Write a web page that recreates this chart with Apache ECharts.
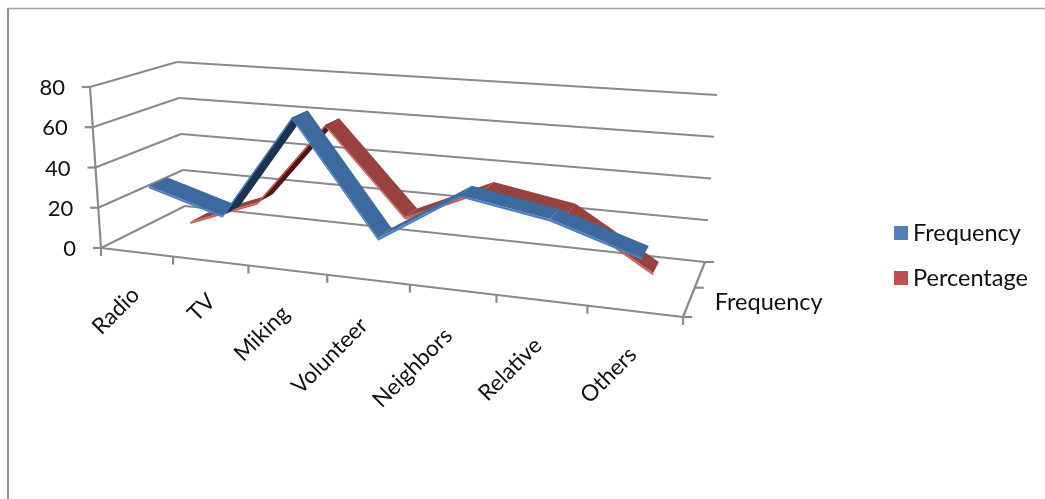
<!DOCTYPE html>
<html>
<head>
<meta charset="utf-8">
<style>html,body{margin:0;padding:0;background:#fff}#chart{width:1045px;height:499px}</style>
<script src="https://cdn.jsdelivr.net/npm/echarts@6/dist/echarts.min.js"></script>
</head>
<body>
<div id="chart"></div>
<script>
const categories = ['Radio', 'TV', 'Miking', 'Volunteer', 'Neighbors', 'Relative', 'Others'];
const frequency = [29, 18, 69, 15, 39, 32, 19];
const percentage = [1, 15, 58, 15, 32, 25, 1];
const valueTicks = [0, 20, 40, 60, 80];
const depthLabel = 'Frequency';

// Screen corners of the 3D box: floor and ceiling, each [front-left, front-right, back-right, back-left].
const floorCorners = [[101, 248], [683, 317], [705, 262], [185, 206]];
const ceilCorners = [[90, 87], [698, 130], [717, 95], [177, 62]];
const gridColor = '#8a8a8a';
const textColor = '#111';
const fontFamily = 'Lato, "Liberation Sans", sans-serif';
const foreshorten = 1.049;

// Projective map from the unit square onto a quadrilateral.
function quadMap(q) {
  const [[x0, y0], [x1, y1], [x2, y2], [x3, y3]] = q;
  const dx1 = x1 - x2, dx2 = x3 - x2, sx = x0 - x1 + x2 - x3;
  const dy1 = y1 - y2, dy2 = y3 - y2, sy = y0 - y1 + y2 - y3;
  const den = dx1 * dy2 - dx2 * dy1;
  const g = (sx * dy2 - dx2 * sy) / den;
  const h = (dx1 * sy - sx * dy1) / den;
  const a = x1 - x0 + g * x1, b = x3 - x0 + h * x3;
  const d = y1 - y0 + g * y1, e = y3 - y0 + h * y3;
  return (u, w) => {
    const k = g * u + h * w + 1;
    return [(a * u + b * w + x0) / k, (d * u + e * w + y0) / k];
  };
}
const floorMap = quadMap(floorCorners);
const ceilMap = quadMap(ceilCorners);

// u: along categories, v: up the value axis, d: front to back.
function project(u, v, d) {
  const s = u / (u + foreshorten * (1 - u));
  const p = floorMap(s, d), q = ceilMap(s, d);
  return [p[0] + (q[0] - p[0]) * v, p[1] + (q[1] - p[1]) * v];
}
// Converts an (index, value) pair to unit coordinates through the hidden cartesian axes.
function unit(api, params, i, value) {
  const c = api.coord([i, value]);
  const r = params.coordSys;
  return [(c[0] - r.x) / r.width, 1 - (c[1] - r.y) / r.height];
}

function line(a, b, width, color) {
  return {
    type: 'line', silent: true,
    shape: { x1: a[0], y1: a[1], x2: b[0], y2: b[1] },
    style: { stroke: color || gridColor, lineWidth: width || 2.2 }
  };
}

function renderFrame(params, api) {
  const kids = [];
  valueTicks.forEach((t) => {
    const v = unit(api, params, 0, t)[1];
    const fl = project(0, v, 0), bl = project(0, v, 1), br = project(1, v, 1);
    kids.push(line(fl, bl), line(bl, br));
    kids.push(line([fl[0] - 8, fl[1]], fl));
    kids.push({
      type: 'text', silent: true, x: fl[0] - 25, y: fl[1] + 1,
      style: { text: String(t), fill: textColor, font: '22px ' + fontFamily, align: 'right', verticalAlign: 'middle' }
    });
  });
  const n = categories.length;
  const fl0 = project(0, 0, 0), fr0 = project(1, 0, 0), br0 = project(1, 0, 1);
  kids.push(line(project(0, 0, 0), project(0, 1, 0)));
  kids.push(line(fl0, fr0), line(fr0, br0));
  for (let k = 0; k <= n; k++) {
    const p = project(k / n, 0, 0);
    kids.push(line(p, [p[0], p[1] + 8]));
  }
  [0, 0.5, 1].forEach((d) => {
    const p = project(1, 0, d);
    kids.push(line(p, [p[0] + 9, p[1]]));
  });
  categories.forEach((name, i) => {
    const u = unit(api, params, i, 0)[0];
    const p = project(u, 0, 0);
    // Longer labels slide a little further down their own slant.
    const slide = name.length * 0.8;
    kids.push({
      type: 'text', silent: true, x: p[0] + 3 - slide, y: p[1] + 35 + slide, rotation: Math.PI / 4,
      style: { text: name, fill: textColor, font: '22.5px ' + fontFamily, align: 'right', verticalAlign: 'middle' }
    });
  });
  const lab = project(1, 0, 0.5);
  kids.push({
    type: 'text', silent: true, x: lab[0] + 20, y: lab[1] + 15,
    style: { text: depthLabel, fill: textColor, font: '23.5px ' + fontFamily, align: 'left', verticalAlign: 'middle' }
  });
  return { type: 'group', children: kids };
}

// Each ribbon segment spans a strip of depth with a thin front face below it;
// its sign on screen tells whether the top or the underside faces us.
function ribbon(values, depth, face, under, edge) {
  const half = 0.11, thick = 1.1;
  return function (params, api) {
    const i = api.value(0);
    if (i >= values.length - 1) return null;
    const a = unit(api, params, i, values[i]);
    const b = unit(api, params, i + 1, values[i + 1]);
    const low = unit(api, params, i, thick)[1];
    const f0 = project(a[0], a[1], depth - half), f1 = project(b[0], b[1], depth - half);
    const b0 = project(a[0], a[1], depth + half), b1 = project(b[0], b[1], depth + half);
    const g0 = project(a[0], a[1] - low, depth - half), g1 = project(b[0], b[1] - low, depth - half);
    const cross = (f1[0] - f0[0]) * (b0[1] - f0[1]) - (f1[1] - f0[1]) * (b0[0] - f0[0]);
    const top = cross < 0;
    return {
      type: 'group', children: [
        { type: 'polygon', shape: { points: [f0, f1, b1, b0] }, style: { fill: top ? face : under } },
        { type: 'polygon', shape: { points: [f0, f1, g1, g0] }, style: { fill: edge } }
      ]
    };
  };
}

const chart = echarts.init(document.getElementById('chart'), null, { renderer: 'canvas' });
chart.setOption({
  animation: false,
  backgroundColor: '#fff',
  grid: { left: 100, right: 300, top: 60, bottom: 200 },
  xAxis: { type: 'category', data: categories, show: false },
  yAxis: { type: 'value', min: 0, max: 80, interval: 20, show: false },
  legend: {
    data: ['Frequency', 'Percentage'],
    orient: 'vertical', left: 889, top: 216, itemWidth: 14, itemHeight: 14, itemGap: 21,
    icon: 'rect', selectedMode: false,
    textStyle: { color: textColor, fontSize: 23.5, fontFamily: fontFamily }
  },
  graphic: [
    { type: 'line', shape: { x1: 8, y1: 8.5, x2: 8, y2: 499 }, style: { stroke: '#8c8c8c', lineWidth: 2 } },
    { type: 'line', shape: { x1: 7, y1: 8.5, x2: 1045, y2: 8.5 }, style: { stroke: '#a0a0a0', lineWidth: 1.5 } }
  ],
  series: [
    { type: 'custom', name: 'frame', silent: true, z: 1, data: [[0, 0]], renderItem: renderFrame },
    {
      type: 'custom', name: 'Percentage', z: 2, silent: true,
      itemStyle: { color: '#c0504d' },
      data: percentage.map((v, i) => [i, v]),
      renderItem: ribbon(percentage, 0.75, '#984240', '#4d1614', '#cf5d5a')
    },
    {
      type: 'custom', name: 'Frequency', z: 3, silent: true,
      itemStyle: { color: '#4f81bd' },
      data: frequency.map((v, i) => [i, v]),
      renderItem: ribbon(frequency, 0.29, '#3d6a9e', '#1b3350', '#4a7fc0')
    }
  ]
});
</script>
</body>
</html>
